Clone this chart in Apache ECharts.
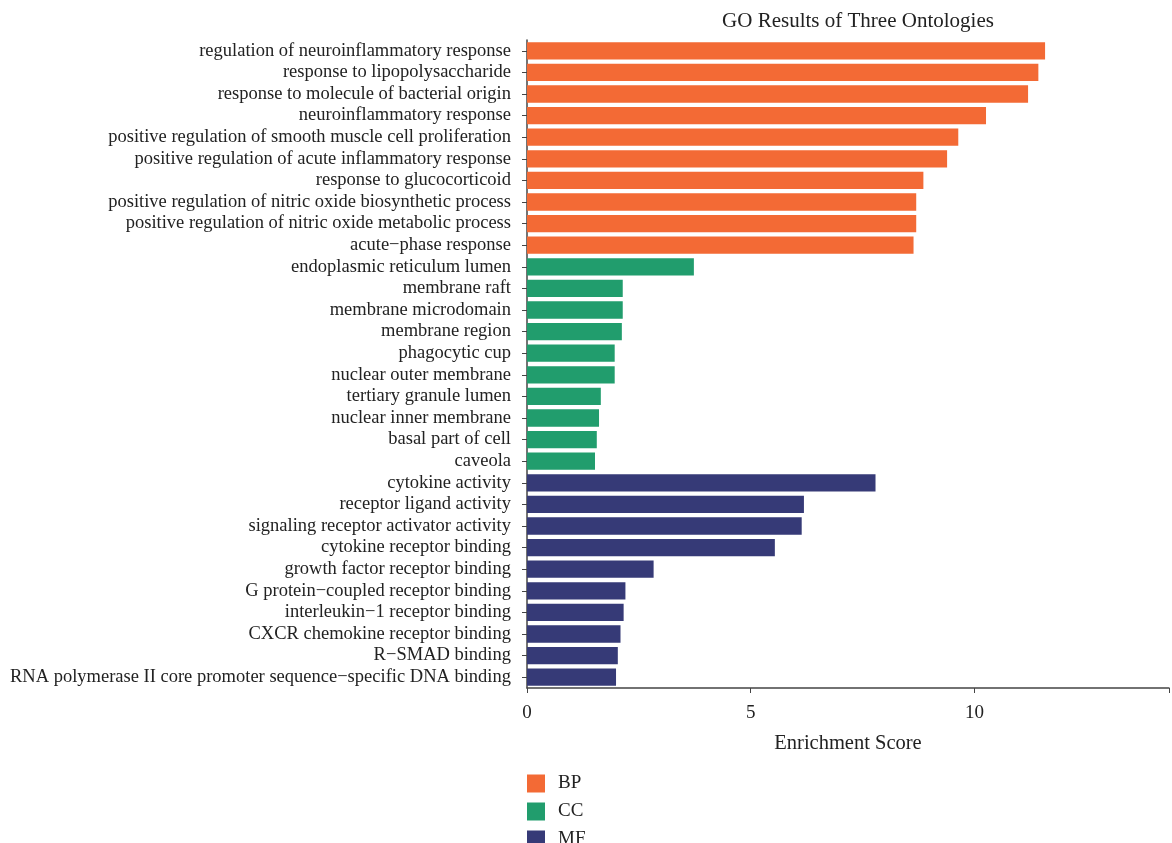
<!DOCTYPE html>
<html>
<head>
<meta charset="utf-8">
<script src="https://cdn.jsdelivr.net/npm/echarts@6/dist/echarts.min.js"></script>
<style>
  html, body { margin: 0; padding: 0; background: #fff; }
  #chart { width: 1172px; height: 843px; }
</style>
</head>
<body>
<div id="chart"></div>
<script>
// GO terms, top to bottom
const bpTerms = [
  'regulation of neuroinflammatory response',
  'response to lipopolysaccharide',
  'response to molecule of bacterial origin',
  'neuroinflammatory response',
  'positive regulation of smooth muscle cell proliferation',
  'positive regulation of acute inflammatory response',
  'response to glucocorticoid',
  'positive regulation of nitric oxide biosynthetic process',
  'positive regulation of nitric oxide metabolic process',
  'acute\u2212phase response'
];
const ccTerms = [
  'endoplasmic reticulum lumen',
  'membrane raft',
  'membrane microdomain',
  'membrane region',
  'phagocytic cup',
  'nuclear outer membrane',
  'tertiary granule lumen',
  'nuclear inner membrane',
  'basal part of cell',
  'caveola'
];
const mfTerms = [
  'cytokine activity',
  'receptor ligand activity',
  'signaling receptor activator activity',
  'cytokine receptor binding',
  'growth factor receptor binding',
  'G protein\u2212coupled receptor binding',
  'interleukin\u22121 receptor binding',
  'CXCR chemokine receptor binding',
  'R\u2212SMAD binding',
  'RNA polymerase II core promoter sequence\u2212specific DNA binding'
];

// Enrichment scores
const bpScores = [11.58, 11.43, 11.20, 10.26, 9.64, 9.39, 8.86, 8.70, 8.70, 8.64];
const ccScores = [3.73, 2.14, 2.14, 2.12, 1.96, 1.96, 1.65, 1.61, 1.56, 1.52];
const mfScores = [7.79, 6.19, 6.14, 5.54, 2.83, 2.20, 2.16, 2.09, 2.03, 1.99];

const xTicks = [0, 5, 10];
const ontologies = ['BP', 'CC', 'MF'];
const colors = ['#F36A35', '#219D6D', '#363A77'];

const categories = bpTerms.concat(ccTerms, mfTerms);
const groups = [bpScores, ccScores, mfScores];

// each ontology gets its own series, padded with nulls outside its block
let offset = 0;
const series = groups.map((vals, gi) => {
  const data = categories.map((_, i) => {
    const j = i - offset;
    return (j >= 0 && j < vals.length) ? vals[j] : null;
  });
  offset += vals.length;
  return {
    name: ontologies[gi],
    type: 'bar',
    stack: 'go',
    data: data,
    barCategoryGap: '20%',
    itemStyle: { color: colors[gi] },
    emphasis: { disabled: true }
  };
});

const serif = '"Liberation Serif", "DejaVu Serif", serif';

const chart = echarts.init(document.getElementById('chart'));
chart.setOption({
  animation: false,
  backgroundColor: '#fff',
  textStyle: { fontFamily: serif },
  title: {
    text: 'GO Results of Three Ontologies',
    left: 853,
    textAlign: 'center',
    top: 6,
    textStyle: { fontFamily: serif, fontSize: 21, fontWeight: 'normal', color: '#222' }
  },
  legend: {
    data: ontologies,
    orient: 'vertical',
    left: 527,
    top: 774,
    height: 90,
    padding: 0,
    icon: 'rect',
    itemWidth: 18,
    itemHeight: 18,
    itemGap: 9,
    textStyle: { fontFamily: serif, fontSize: 19, color: '#222', padding: [0, 0, 0, 8] }
  },
  grid: { left: 527, right: 0, top: 40, bottom: 155, containLabel: false },
  xAxis: {
    type: 'value',
    min: 0,
    max: 14.35,
    interval: 5,
    name: 'Enrichment Score',
    nameLocation: 'middle',
    nameGap: 45,
    nameTextStyle: { fontFamily: serif, fontSize: 20.5, color: '#222' },
    axisLine: { show: true, lineStyle: { color: '#444', width: 1.5 } },
    axisTick: { show: true, length: 5, lineStyle: { color: '#444' } },
    axisLabel: {
      fontFamily: serif, fontSize: 19, color: '#222', margin: 16,
      formatter: v => (xTicks.indexOf(v) >= 0 ? String(v) : '')
    },
    splitLine: { show: false }
  },
  yAxis: {
    type: 'category',
    data: categories,
    inverse: true,
    axisLine: { show: true, lineStyle: { color: '#444', width: 1.5 } },
    axisTick: { show: true, length: 5, alignWithLabel: true, lineStyle: { color: '#444' } },
    axisLabel: { fontFamily: serif, fontSize: 18.5, color: '#222', margin: 16, interval: 0 }
  },
  series: series
});
</script>
</body>
</html>
